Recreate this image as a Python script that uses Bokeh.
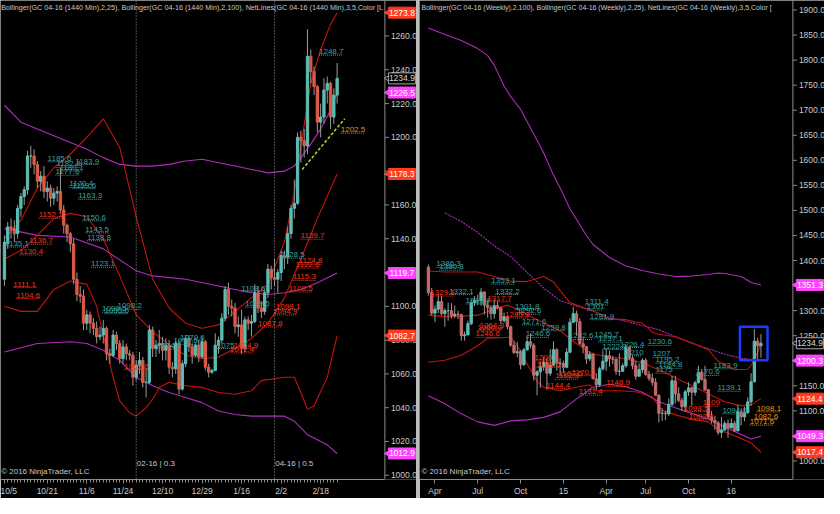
import math
from bokeh.plotting import figure
from bokeh.models import Range1d, FixedTicker, Span, Div, ColumnDataSource
from bokeh.layouts import row
from bokeh.embed import file_html
from bokeh.resources import INLINE
from bokeh.core.properties import value

FONT = "Liberation Sans"

# ---------------- Left panel: GC 04-16 daily (1440 Min) ----------------
d_open = [1116,1137,1147,1146,1143,1158,1165,1169,1189,1189, 1184,1174,1177,1168,1170,1164,1167,1168,1157,1148,
          1143,1137,1116,1107,1106,1090,1095,1090,1087,1082, 1083,1087,1072,1071,1083,1078,1069,1076,1072,1071,
          1058,1065,1068,1055,1055,1086,1075,1077,1078,1074, 1077,1064,1063,1078,1051,1066,1081,1076,1071,1077,
          1070,1079,1064,1061,1062,1077,1080,1093,1110,1100, 1099,1088,1089,1075,1092,1090,1091,1108,1099,1097,
          1108,1122,1117,1116,1120,1130,1129,1143,1158,1161, 1200,1198,1195,1248,1239,1230,1209,1212,1228,1232,
          1212,1225]
d_high = [1142,1150,1152,1151,1160,1167,1171,1192,1195,1193, 1186,1180,1183,1174,1172,1170,1171,1182,1160,1149,
          1144,1140,1120,1112,1110,1098,1097,1093,1091,1088, 1092,1088,1075,1086,1085,1080,1080,1078,1074,1073,
          1068,1073,1070,1063,1089,1088,1080,1086,1082,1081, 1080,1067,1080,1080,1068,1083,1083,1078,1078,1080,
          1082,1080,1066,1063,1084,1082,1096,1112,1114,1104, 1102,1094,1098,1094,1094,1095,1113,1112,1103,1110,
          1125,1124,1128,1122,1133,1133,1147,1160,1175,1203, 1204,1205,1264,1252,1242,1231,1220,1235,1236,1233,
          1229,1244]
d_low = [1112,1134,1140,1138,1140,1153,1160,1166,1182,1178, 1170,1168,1164,1162,1159,1160,1162,1155,1143,1138,
         1132,1113,1103,1102,1086,1086,1084,1083,1078,1080, 1078,1068,1066,1070,1074,1066,1066,1068,1068,1053,
         1056,1060,1052,1046,1054,1070,1070,1072,1068,1068, 1060,1058,1060,1048,1050,1064,1073,1066,1070,1067,
         1069,1062,1058,1060,1062,1072,1078,1091,1095,1094, 1084,1082,1072,1073,1086,1082,1090,1096,1093,1095,
         1105,1110,1112,1108,1115,1122,1125,1140,1152,1160, 1185,1188,1190,1232,1225,1203,1200,1208,1220,1205,
         1208,1220]
d_close = [1138,1147,1146,1143,1158,1165,1169,1189,1189,1184, 1174,1177,1168,1170,1164,1167,1168,1157,1148,1143,
           1137,1116,1107,1106,1090,1095,1090,1087,1082,1083, 1087,1072,1071,1083,1078,1069,1076,1072,1071,1058,
           1065,1068,1055,1055,1086,1075,1077,1078,1074,1077, 1064,1063,1078,1051,1066,1081,1076,1071,1077,1070,
           1079,1064,1061,1062,1077,1080,1093,1110,1100,1099, 1088,1089,1075,1092,1090,1091,1108,1099,1097,1108,
           1122,1117,1116,1120,1130,1129,1143,1158,1161,1200, 1198,1195,1248,1239,1230,1209,1212,1228,1232,1212,
           1225,1234.9]

d_tick_idx = [0, 13, 25, 36, 48, 60, 72, 84, 96]
d_tick_lab = ["10/5", "10/21", "11/6", "11/24", "12/10", "12/29", "1/16", "2/2", "2/18"]
d_price_ticks = [1000, 1020, 1040, 1060, 1080, 1100, 1120, 1140, 1160, 1180, 1200, 1220, 1240, 1260]

# Bollinger(25) red, Bollinger(100) magenta  (bar index, price)
L_up25_x = [0,5,10,15,20,25,30,35,40,45,50,55,60,65,70,75,80,85,88,90,93,96,99,101]
L_up25_y = [1140,1151,1170,1182,1190,1200,1211,1194,1153,1116,1099,1090,1087,1089,1097,1105,1113,1138,1167,1195,1232,1252,1267,1273.8]
L_mid25_x = [0,5,10,15,20,25,30,35,40,45,50,55,60,65,70,75,80,85,90,95,101]
L_mid25_y = [1128,1133,1142,1152,1155,1153,1140,1118,1095,1085,1077,1071,1069,1070,1075,1081,1090,1105,1128,1152,1178.3]
L_lo25_x = [0,5,10,15,20,25,28,30,33,35,38,40,43,45,47,50,55,60,65,70,75,78,85,88,90,92,94,98,101]
L_lo25_y = [1100,1097,1097,1110,1115,1113,1100,1083,1058,1044,1037,1035,1040,1045,1052,1055,1053,1052,1049,1048,1050,1056,1058,1058,1049,1039,1041,1058,1082.7]
L_up100_x = [0,5,10,15,20,25,30,35,40,45,50,55,60,65,70,75,80,85,88,90,93,96,99,101]
L_up100_y = [1219,1209,1205,1201,1197,1193,1188,1184,1183,1183,1184,1186,1187,1185,1183,1181,1179,1180,1183,1188,1196,1205,1216,1226.5]
L_mid100_x = [0,10,20,30,40,45,55,65,70,75,80,85,90,95,101]
L_mid100_y = [1146,1142,1141,1134,1121,1118,1116,1112,1110,1108,1107,1108,1110,1114,1119.7]
L_lo100_x = [0,10,20,25,30,35,40,45,50,55,60,65,70,75,85,88,92,95,98,101]
L_lo100_y = [1073,1078,1079,1078,1074,1068,1058,1053,1049,1046,1043,1038,1036,1035,1035,1032,1024,1021,1018,1012.9]

# NetLines labels: (text, start bar), by colour
L_teal = [("1185.6",13.1),("1183.9",21.5),("1182.2",15.8),("1180.1",16.7),("1177.6",15.5),("1170.4",19.7),
          ("1169.6",20.6),("1163.3",22.4),("1150.6",23.6),("1143.5",24.5),("1138.8",25.1),("1135.1",0.2),
          ("1123.1",26.3),("1098.2",34.3),("1096.5",29.6),("1095.6",30.4),("1079.6",53.4),("1077.5",51.3),
          ("1074.6",46.3),("1075",64.5),("1108.6",71.9),("1099.5",73.1),("1128.5",83.9),("1248.7",95.5)]
L_red = [("1152.1",10.4),("1136.7",7.5),("1130.4",4.5),("1111.1",2.7),("1104.6",3.6),("1062.6",36.4),
         ("1074.9",69.6),("1072.4",68.4),("1087.8",77.0),("1098.1",82.4),("1094.9",81.5),("1108.5",86.3),
         ("1115.3",87.5),("1122.6",88.4),("1124.8",89.3),("1139.7",89.9)]
L_orange = [("1202.5",102.1)]

L_trend_x = [90.4, 103.3]
L_trend_y = [1181, 1211]
L_roll_idx = [40, 82]
L_roll_txt = ["02-16 | 0.3", "04-16 | 0.5"]

# ---------------- Right panel: GC 04-16 weekly ----------------
w_open = [1387,1336,1295,1303,1318,1294,1300,1300,1290,1293, 1292,1250,1252,1274,1316,1320,1320,1337,1311,1306,
          1294,1310,1306,1280,1288,1268,1231,1216,1218,1192, 1222,1238,1231,1171,1178,1188,1197,1175,1191,1222,
          1195,1195,1187,1217,1277,1294,1278,1234,1228,1204, 1213,1164,1152,1184,1199,1210,1204,1203,1179,1179,
          1190,1226,1205,1190,1169,1182,1201,1173,1165,1157, 1131,1095,1095,1094,1113,1160,1134,1121,1108,1138,
          1146,1137,1156,1177,1163,1142,1088,1081,1076,1057, 1062,1075,1066,1075,1060,1098,1088,1096,1118,1158,
          1239,1230]
w_high = [1392,1345,1310,1332,1330,1305,1316,1315,1310,1300, 1294,1258,1280,1323,1329,1332,1345,1339,1320,1311,
          1322,1320,1307,1296,1290,1270,1240,1238,1222,1225, 1249,1255,1235,1181,1199,1208,1205,1223,1239,1225,
          1205,1200,1225,1285,1307,1300,1285,1245,1230,1219, 1216,1175,1188,1220,1225,1220,1210,1205,1215,1195,
          1232,1230,1210,1200,1195,1205,1205,1180,1175,1165, 1133,1105,1100,1125,1170,1170,1147,1126,1142,1157,
          1147,1160,1190,1180,1190,1144,1100,1090,1080,1088, 1080,1083,1085,1080,1112,1105,1108,1127,1175,1263,
          1246,1253]
w_low = [1330,1290,1277,1295,1290,1268,1280,1284,1285,1283, 1240,1240,1250,1271,1309,1311,1310,1292,1286,1282,
         1284,1303,1273,1276,1263,1228,1214,1207,1183,1190, 1220,1225,1160,1131,1146,1180,1142,1170,1190,1180,
         1170,1175,1185,1215,1275,1250,1232,1215,1194,1199, 1163,1142,1148,1180,1180,1188,1193,1172,1170,1178,
         1186,1201,1183,1162,1170,1175,1170,1160,1150,1130, 1077,1080,1082,1090,1110,1115,1117,1100,1098,1130,
         1110,1130,1155,1160,1140,1085,1075,1062,1052,1046, 1060,1046,1065,1058,1062,1071,1079,1095,1110,1157,
         1200,1206]
w_close = [1336,1295,1303,1318,1294,1300,1300,1290,1293,1292, 1250,1252,1274,1316,1320,1320,1337,1311,1306,1294,
           1310,1306,1280,1288,1268,1231,1216,1218,1192,1222, 1238,1231,1171,1178,1188,1197,1175,1191,1222,1195,
           1195,1187,1217,1277,1294,1278,1234,1228,1204,1213, 1164,1152,1184,1199,1210,1204,1203,1179,1179,1190,
           1226,1205,1190,1169,1182,1201,1173,1165,1157,1131, 1095,1095,1094,1113,1160,1134,1121,1108,1138,1146,
           1137,1156,1177,1163,1142,1088,1081,1076,1057,1062, 1075,1066,1075,1060,1098,1088,1096,1118,1158,1239,
           1230,1234.9]

w_tick_idx = [2, 15, 28, 41, 54, 66, 79, 92]
w_tick_lab = ["Apr", "Jul", "Oct", "15", "Apr", "Jul", "Oct", "16"]
w_price_ticks = [1000,1050,1100,1150,1200,1250,1300,1350,1400,1450,1500,1550,1600,1650,1700,1750,1800,1850,1900]

R_up100_x = [0,5,10,15,18,20,23,25,28,30,33,35,38,40,43,45,48,50,55,60,65,70,75,80,85,88,90,95,98,101]
R_up100_y = [1864,1851,1839,1823,1809,1790,1748,1727,1702,1677,1640,1615,1570,1545,1503,1482,1450,1432,1406,1389,
             1380,1373,1368,1369,1372,1375,1374,1368,1356,1351.3]
R_mid100_x = [5,10,15,18,20,25,30,35,40,45,50,55,60,65,70,75,80,85,90,95,101]
R_mid100_y = [1495,1478,1456,1440,1429,1408,1376,1345,1320,1309,1299,1286,1279,1270,1262,1248,1235,1224,1213,1205,1200.3]
R_lo100_x = [0,5,10,15,20,25,30,35,40,45,50,55,60,65,70,75,80,85,90,95,98,101]
R_lo100_y = [1130,1114,1094,1078,1071,1080,1082,1087,1098,1124,1147,1153,1148,1137,1118,1106,1095,1084,1068,1053,1044,1049.3]
R_up25_x = [0,5,10,15,20,25,30,35,38,40,43,45,50,55,60,65,68,70,75,80,85,88,90,93,97,99,101]
R_up25_y = [1379,1377,1377,1377,1368,1359,1358,1368,1357,1340,1316,1311,1300,1283,1282,1275,1257,1253,1248,1236,
            1222,1199,1192,1182,1183,1200,1235]
R_mid25_x = [0,5,10,15,20,24,28,30,35,40,45,50,55,60,65,70,75,80,85,90,95,98,101]
R_mid25_y = [1291,1288,1289,1291,1303,1311,1300,1292,1276,1260,1234,1213,1208,1204,1196,1182,1166,1150,1134,1118,1110,1112,1124.4]
R_lo25_x = [0,5,10,15,18,25,27,29,33,35,40,45,49,51,58,63,68,71,75,81,85,88,94,98,101]
R_lo25_y = [1197,1201,1211,1230,1245,1247,1230,1205,1159,1147,1140,1147,1152,1140,1140,1138,1128,1101,1092,1082,
            1078,1063,1048,1036,1017.4]

R_teal = [("1386.3",2.4),("1380.8",3.3),("1353.1",19.1),("1332.1",6.3),("1332.2",20.3),("1313.4",11.3),
          ("1301.8",26.3),("1292.6",26.9),("1271.6",28.4),("1259.8",34.3),("1246.6",29.6),("1242.6",42.7),
          ("1311.4",47.5),("1301",48.1),("1281.9",49.0),("1245.7",50.4),("1237.1",51.6),("1222.3",52.8),
          ("1226.4",58.2),("1230.6",66.6),("1210",60.0),("1207",68.1),("1195.2",69.0),("1184.8",69.9),
          ("1175",69.0),("1170.6",81.2),("1183.9",86.6),("1139.1",87.8),("1094.0",89.3)]
R_red = [("1329.1",0.6),("1317.7",17.9),("1285.2",23.3),("1264.3",15.5),("1260.0",14.9),("1246.6",14.3),
         ("1200",32.2),("1186.5",32.8),("1144.4",35.8),("1131.4",45.7),("1162.9",38.5),("1167.5",39.5),
         ("1170.3",43.5),("1148.9",54.0),("1109",83.3),("1098.5",77.6),("1082.2",79.1)]
R_orange = [("1098.1",99.7),("1082.6",98.8),("1071.6",97.6)]

R_box_bars = [94.6, 103.0]
R_box_prices = [1201, 1268]

# ---------------- styling ----------------
C_UP = "#5ebdb3"
C_DN_L = "#dc5a46"
C_DN_R = "#c46a6a"
C_WICK = "#9a9a9a"
C_RED = "#c4140c"
C_MAG = "#b02cbe"
C_TEAL = "#3aa0a0"
C_LRED = "#f2361c"
C_ORG = "#e8901a"
C_TXT = "#c8c8c8"
C_AX = "#8c8c8c"
TAG_RED = "#ff3b1f"
TAG_MAG = "#ff44ff"


def make_fig(w, h, xr, yr):
    p = figure(width=w, height=h, x_range=Range1d(*xr), y_range=Range1d(*yr),
               output_backend="svg", toolbar_location=None, y_axis_location=None,
               min_border_left=0, min_border_top=0, min_border_bottom=0, min_border_right=0)
    p.background_fill_color = "black"
    p.border_fill_color = "black"
    p.outline_line_color = None
    p.grid.visible = False
    return p


def date_axis(p, ax_x, tick_idx, tick_lab, minor):
    xa = p.xaxis[0]
    xa.bounds = (p.x_range.start, ax_x)
    xa.ticker = FixedTicker(ticks=tick_idx, minor_ticks=minor)
    xa.major_label_overrides = {t: s for t, s in zip(tick_idx, tick_lab)}
    xa.axis_line_color = C_AX
    xa.major_tick_line_color = C_AX
    xa.minor_tick_line_color = C_AX
    xa.major_tick_in = 0
    xa.major_tick_out = 4
    xa.minor_tick_in = 0
    xa.minor_tick_out = 3
    xa.major_label_text_color = C_TXT
    xa.major_label_text_font = FONT
    xa.major_label_text_font_size = "8.5px"
    xa.major_label_standoff = 2


def price_axis(p, ax_x, ticks, ppb):
    n = len(ticks)
    p.add_layout(Span(location=ax_x, dimension="height", line_color=C_AX, line_width=1))
    p.segment(x0=[ax_x] * n, y0=ticks, x1=[ax_x + 4 / ppb] * n, y1=ticks, line_color=C_AX)
    p.text(x=[ax_x] * n, y=ticks, text=[f"{t:.1f}" for t in ticks], x_offset=6, text_color=C_TXT,
           text_font=value(FONT), text_font_size="8.5px", text_baseline="middle", text_align="left")


def candles(p, o, h, l, c, dn):
    x = list(range(len(o)))
    src = ColumnDataSource(dict(
        x=x, h=h, l=l,
        top=[max(a, b) for a, b in zip(o, c)],
        bot=[min(a, b) for a, b in zip(o, c)],
        col=[C_UP if b >= a else dn for a, b in zip(o, c)]))
    p.segment("x", "h", "x", "l", source=src, line_color=C_WICK, line_width=1)
    p.vbar(x="x", top="top", bottom="bot", width=0.7, fill_color="col", line_color="col", source=src)


def band(p, xs, ys, color, dash="solid"):
    p.line(xs, ys, line_color=color, line_width=1.1, line_dash=dash)


def netlines(p, items, color):
    xs = [b for _, b in items]
    ys = [float(t) for t, _ in items]
    src = ColumnDataSource(dict(x=xs, y=ys, x1=[b + 1.2 * len(t) for t, b in items], t=[t for t, _ in items]))
    p.segment("x", "y", "x1", "y", source=src, line_color=color, line_dash="1 1", line_width=1)
    p.text(x="x", y="y", text="t", source=src, text_color=color, text_font=value(FONT),
           text_font_size="8px", text_baseline="bottom", y_offset=-1)


def tags(p, ax_x, ppb, items):
    for val, kind in items:
        if kind == "last":
            bg, bc, tc = "black", "#a8a8a8", "#d8d8d8"
        else:
            bg = TAG_RED if kind == "red" else TAG_MAG
            bc, tc = bg, "white"
        p.scatter([ax_x + 4 / ppb], [val], marker="triangle", size=8, angle=math.pi / 2,
                  fill_color=bg, line_color=bc)
        p.rect([ax_x + 17 / ppb], [val], width=27, height=11, width_units="screen", height_units="screen",
               fill_color=bg, line_color=bc)
        p.text([ax_x + 17 / ppb], [val], text=[f"{val:.1f}"], text_color=tc, text_font=value(FONT),
               text_font_size="8.5px", text_baseline="middle", text_align="center")


def corner_texts(p, title, xpad, size):
    xs = p.x_range.start
    ys, ye = p.y_range.start, p.y_range.end
    span = ye - ys
    p.text(x=[xs + xpad], y=[ye - span * 0.014], text=[title], text_color=C_TXT, text_font=value(FONT),
           text_font_size=size, text_baseline="middle")
    p.text(x=[xs + xpad], y=[ys + span * 0.008], text=["\u00a9 2016 NinjaTrader, LLC"], text_color=C_TXT,
           text_font=value(FONT), text_font_size="8px", text_baseline="bottom")


# ---- left figure
WL = 416
L_xr = (-1.2, 125.1)
L_ax = 115.5
ppbL = WL / (L_xr[1] - L_xr[0])
pL = make_fig(WL, 498, L_xr, (997.5, 1281))
date_axis(pL, L_ax, d_tick_idx, d_tick_lab, list(range(len(d_open))))
for ri in L_roll_idx:
    pL.add_layout(Span(location=ri, dimension="height", line_color="#a0a0a0", line_dash="1 2", line_width=1))
pL.text(x=[r + 0.2 for r in L_roll_idx], y=[1007] * 2, text=L_roll_txt, text_color=C_TXT,
        text_font=value(FONT), text_font_size="8px", text_baseline="middle")
band(pL, L_up100_x, L_up100_y, C_MAG)
band(pL, L_mid100_x, L_mid100_y, C_MAG)
band(pL, L_lo100_x, L_lo100_y, C_MAG)
band(pL, L_up25_x, L_up25_y, C_RED)
band(pL, L_mid25_x, L_mid25_y, C_RED)
band(pL, L_lo25_x, L_lo25_y, C_RED)
candles(pL, d_open, d_high, d_low, d_close, C_DN_L)
netlines(pL, L_teal, C_TEAL)
netlines(pL, L_red, C_LRED)
netlines(pL, L_orange, C_ORG)
pL.line(L_trend_x, L_trend_y, line_color="#9fdc1e", line_width=1.6, line_dash="3 2")
corner_texts(pL, "Bollinger(GC 04-16 (1440 Min),2,25), Bollinger(GC 04-16 (1440 Min),2,100), "
                 "NetLines(GC 04-16 (1440 Min),3,5,Color [L", 0.2, "7.2px")
price_axis(pL, L_ax, d_price_ticks, ppbL)
tags(pL, L_ax, ppbL, [(L_up25_y[-1], "red"), (d_close[-1], "last"), (L_up100_y[-1], "mag"),
                      (L_mid25_y[-1], "red"), (L_mid100_y[-1], "mag"), (L_lo25_y[-1], "red"),
                      (L_lo100_y[-1], "mag")])

# ---- right figure
WR = 405
R_xr = (-2.7, 120.3)
R_ax = 110.7
ppbR = WR / (R_xr[1] - R_xr[0])
pR = make_fig(WR, 498, R_xr, (963, 1919))
date_axis(pR, R_ax, w_tick_idx, w_tick_lab, [])
band(pR, R_up100_x, R_up100_y, C_MAG)
band(pR, R_mid100_x, R_mid100_y, C_MAG, "2 1")
band(pR, R_lo100_x, R_lo100_y, C_MAG)
band(pR, R_up25_x, R_up25_y, C_RED)
band(pR, R_mid25_x, R_mid25_y, C_RED)
band(pR, R_lo25_x, R_lo25_y, C_RED)
candles(pR, w_open, w_high, w_low, w_close, C_DN_R)
netlines(pR, R_teal, C_TEAL)
netlines(pR, R_red, C_LRED)
netlines(pR, R_orange, C_ORG)
pR.quad(left=[R_box_bars[0]], right=[R_box_bars[1]], bottom=[R_box_prices[0]], top=[R_box_prices[1]],
        fill_color=None, line_color="#1a3cff", line_width=2.5)
corner_texts(pR, "Bollinger(GC 04-16 (Weekly),2,100), Bollinger(GC 04-16 (Weekly),2,25), "
                 "NetLines(GC 04-16 (Weekly),3,5,Color [", 0.6, "7px")
price_axis(pR, R_ax, w_price_ticks, ppbR)
tags(pR, R_ax, ppbR, [(d_close[-1], "last"), (R_up100_y[-1], "mag"), (R_mid100_y[-1], "mag"),
                      (R_mid25_y[-1], "red"), (R_lo100_y[-1], "mag"), (R_lo25_y[-1], "red")])

sep = Div(width=3, height=498, margin=0, styles={"background-color": "#bdbdbd"})
layout = row(pL, sep, pR, spacing=0)
open("out.html", "w").write(file_html(layout, INLINE))
